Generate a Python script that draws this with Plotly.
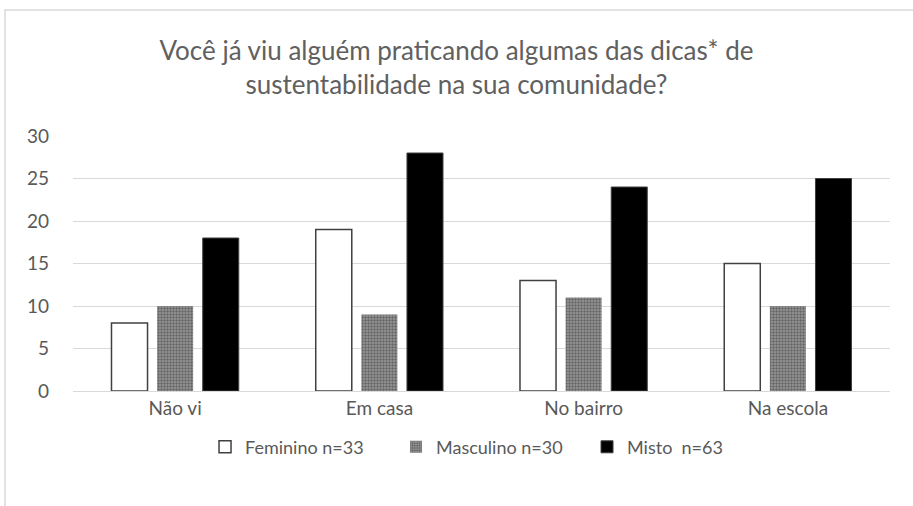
import plotly.graph_objects as go

categorias = ['Não vi', 'Em casa', 'No bairro', 'Na escola']
feminino = [8, 19, 13, 15]
masculino = [10, 9, 11, 10]
misto = [18, 28, 24, 25]
y_ticks = [0, 5, 10, 15, 20, 25, 30]

fonte = "Lato, 'Open Sans', sans-serif"

fig = go.Figure()
fig.add_trace(go.Bar(
    x=categorias, y=feminino, name='Feminino n=33',
    marker=dict(color='white', line=dict(color='#404040', width=1.5))
))
fig.add_trace(go.Bar(
    x=categorias, y=masculino, name='Masculino n=30',
    marker=dict(color='#999999', line=dict(width=0),
                pattern=dict(shape='.', fgcolor='#333333', bgcolor='#999999',
                             size=3, solidity=0.5))
))
fig.add_trace(go.Bar(
    x=categorias, y=misto, name='Misto  n=63',
    marker=dict(color='black', line=dict(color='#404040', width=1))
))

fig.update_layout(
    width=913, height=506,
    paper_bgcolor='white', plot_bgcolor='white',
    font=dict(family=fonte, color='#595959', size=18),
    title=dict(
        text='Você já viu alguém praticando algumas das dicas* de<br>sustentabilidade na sua comunidade?',
        x=0.5, xanchor='center', y=0.882, yanchor='middle',
        font=dict(family=fonte, size=26, color='#606060')
    ),
    barmode='group', bargap=0.33, bargroupgap=0.21,
    margin=dict(l=73, r=23, t=136, b=115),
    xaxis=dict(showgrid=False, showline=True, linecolor='#d9d9d9', linewidth=1,
               ticks='', tickfont=dict(size=19, color='#595959')),
    yaxis=dict(range=[0, 30], tickvals=y_ticks, showgrid=True, gridcolor='#d9d9d9',
               gridwidth=1, zeroline=False, showline=False, ticks='',
               ticklabelstandoff=23, tickfont=dict(size=19, color='#595959')),
    legend=dict(orientation='h', x=0.1616, xanchor='left', y=-0.22, yanchor='middle',
                font=dict(size=18, color='#595959'), itemwidth=30,
                entrywidth=146, traceorder='normal'),
    shapes=[dict(type='rect', xref='paper', yref='paper',
                 x0=-0.0832, x1=1.05, y0=-0.6, y1=1.494,
                 line=dict(color='#d9d9d9', width=1.5), layer='below')]
)

fig.write_html("out.html", config={'displayModeBar': False},
               post_script="document.body.style.margin='0';")
